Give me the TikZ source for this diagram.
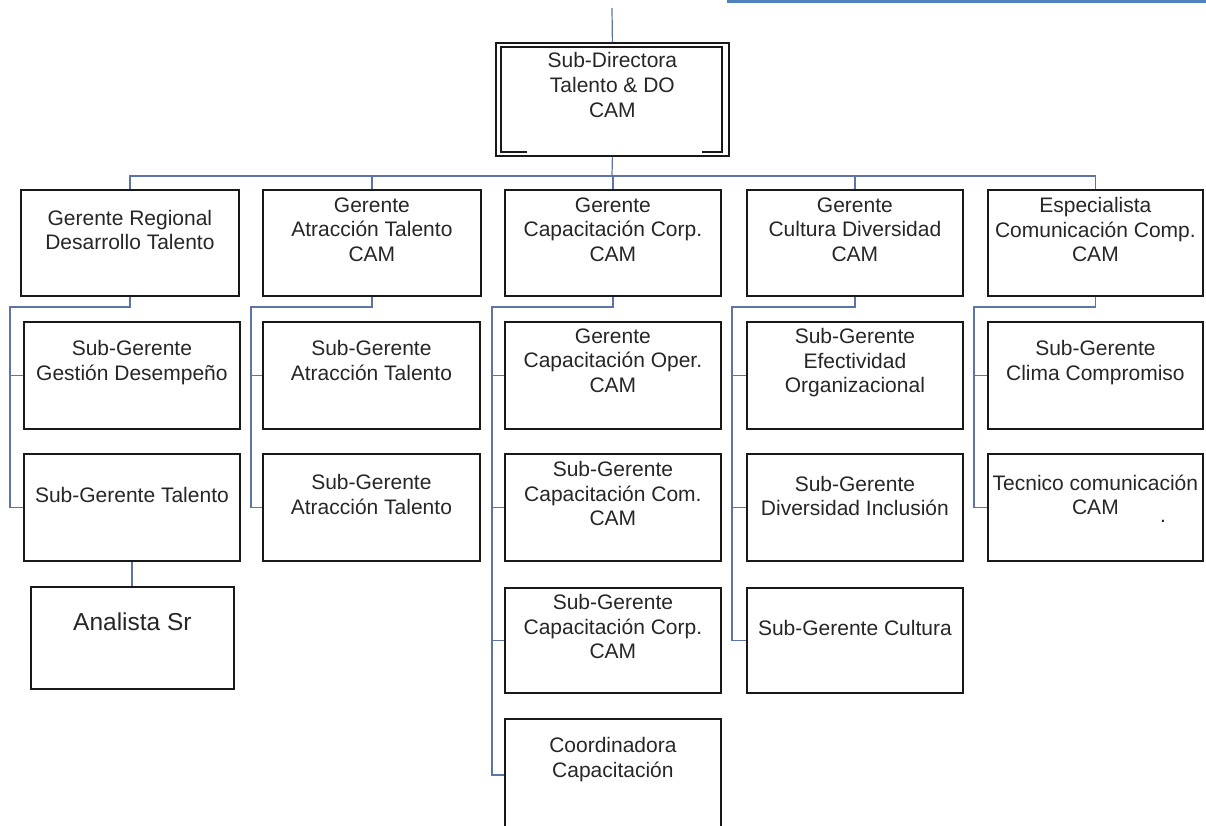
\documentclass[tikz,border=0pt]{standalone}
\usepackage{fontspec}
\setmainfont{Liberation Sans}
\usetikzlibrary{calc}
\definecolor{linkblue}{RGB}{92,116,168}
\definecolor{rulebl}{RGB}{79,129,189}
\definecolor{inkgray}{RGB}{38,38,38}
\tikzset{
  orgbox/.style={draw=black!90, line width=1.8pt, inner sep=0pt, rectangle},
  orgtext/.style={inner sep=0pt, align=center, text=inkgray, font=\fontsize{21}{24.5}\selectfont},
  link/.style={draw=linkblue, line width=1.2pt},
}
% box: name, left, top, width, height, text offset from top, text
\newcommand\ocbox[7]{%
  \node[orgbox, minimum width=#4pt, minimum height=#5pt, anchor=north west] (#1) at (#2,#3) {};
  \node[orgtext, anchor=north] (#1-t) at ($(#1.north)+(0,#6)$) {#7};
}
\begin{document}
\begin{tikzpicture}[x=1pt,y=-1pt]
\useasboundingbox (0,0) rectangle (1206,825);

% rule at the top of the page
\draw[rulebl, line width=3pt] (727,1) -- (1206,1);

% head of the unit, double frame
\node[orgbox, minimum width=233pt, minimum height=113pt, anchor=north west] (sd) at (495,42) {};
\draw[black!90, line width=1.5pt] (527,152) -- (501,152) -- (501,47) -- (722,47) -- (722,152) -- (702,152);
\node[orgtext, anchor=north, font=\fontsize{21}{25}\selectfont] (sd-t) at ($(sd.north)+(0,10.5)$) {Sub-Directora\\Talento \& DO\\CAM};

% first level
\ocbox{g1}{20}{189}{218}{106}{21}{Gerente Regional\\Desarrollo Talento}
\ocbox{g2}{262}{189}{218}{106}{8.5}{Gerente\\Atracción Talento\\CAM}
\ocbox{g3}{504}{189}{216}{106}{8.5}{Gerente\\Capacitación Corp.\\CAM}
\ocbox{g4}{746}{189}{216}{106}{8.5}{Gerente\\Cultura Diversidad\\CAM}
\ocbox{g5}{987}{189}{215}{106}{8.5}{Especialista\\Comunicación Comp.\\CAM}

% second level
\ocbox{a1}{23}{321}{216}{107}{19.5}{Sub-Gerente\\Gestión Desempeño}
\ocbox{b1}{262}{321}{217}{107}{19.5}{Sub-Gerente\\Atracción Talento}
\ocbox{c1}{504}{321}{216}{107}{7.5}{Gerente\\Capacitación Oper.\\CAM}
\ocbox{d1}{746}{321}{216}{107}{7.5}{Sub-Gerente\\Efectividad\\Organizacional}
\ocbox{e1}{987}{321}{215}{107}{19.5}{Sub-Gerente\\Clima Compromiso}

% third level
\ocbox{a2}{23}{453}{216}{107}{34.5}{Sub-Gerente Talento}
\ocbox{b2}{262}{453}{217}{107}{21.5}{Sub-Gerente\\Atracción Talento}
\ocbox{c2}{504}{453}{216}{107}{8.5}{Sub-Gerente\\Capacitación Com.\\CAM}
\ocbox{d2}{746}{453}{216}{107}{23}{Sub-Gerente\\Diversidad Inclusión}
\ocbox{e2}{987}{453}{215}{107}{21.5}{Tecnico comunicación\\CAM}
\node[orgtext] (e2-dot) at (1163,521) {.};

% fourth and fifth level
\node[orgbox, minimum width=203pt, minimum height=102pt, anchor=north west] (an) at (30,586) {};
\node[orgtext, anchor=north, font=\fontsize{24.5}{28}\selectfont] (an-t) at ($(an.north)+(0,27)$) {Analista Sr};
\ocbox{c3}{504}{587}{216}{105}{7.5}{Sub-Gerente\\Capacitación Corp.\\CAM}
\ocbox{d3}{746}{587}{216}{105}{33.5}{Sub-Gerente Cultura}
\ocbox{c4}{504}{718}{216}{112}{19.5}{Coordinadora\\Capacitación}

% connectors from the head
\coordinate (feed) at (612,8);
\coordinate (bus) at (612,176);
\draw[link] (feed) -- (sd.north);
\draw[link] (sd.south) -- (bus);
\draw[link] (g1.north) |- (bus) -| (g5.north);
\foreach \n in {g2,g3,g4} \draw[link] (\n.north) -- (\n.north |- bus);

% column spines
\coordinate (k1) at (10,307);
\coordinate (k2) at (251,307);
\coordinate (k3) at (492,307);
\coordinate (k4) at (732,307);
\coordinate (k5) at (974,307);

\draw[link] (g1.south) |- (k1) |- (a2.west);
\draw[link] (a1.west -| k1) -- (a1.west);

\draw[link] (g2.south) |- (k2) |- (b2.west);
\draw[link] (b1.west -| k2) -- (b1.west);

\draw[link] (g3.south) |- (k3) |- (c4.west);
\foreach \n in {c1,c2,c3} \draw[link] (\n.west -| k3) -- (\n.west);

\draw[link] (g4.south) |- (k4) |- (d3.west);
\foreach \n in {d1,d2} \draw[link] (\n.west -| k4) -- (\n.west);

\draw[link] (g5.south) |- (k5) |- (e2.west);
\draw[link] (e1.west -| k5) -- (e1.west);

\draw[link] (a2.south) -- (a2.south |- an.north);
\end{tikzpicture}
\end{document}
